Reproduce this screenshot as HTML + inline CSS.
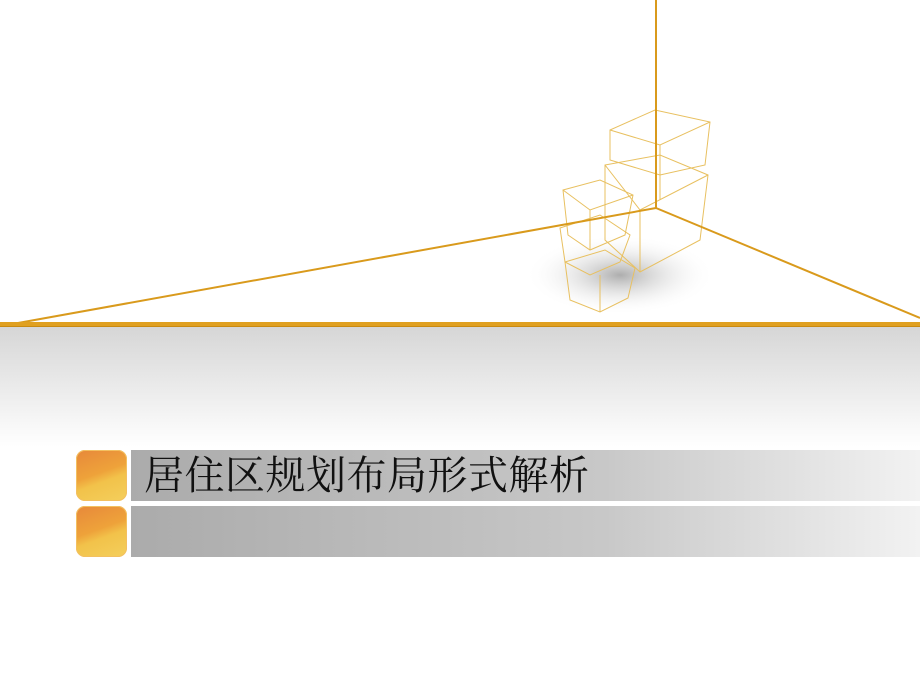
<!DOCTYPE html>
<html><head><meta charset="utf-8"><style>
body{margin:0;width:920px;height:690px;overflow:hidden;background:#fff;position:relative;font-family:"Liberation Serif","Noto Serif CJK SC",serif}
.g{position:absolute;left:0;top:327px;width:920px;height:120px;background:linear-gradient(#d6d6d6,#fff)}
.bar{position:absolute;left:131px;width:789px;height:51px;background:linear-gradient(90deg,#ababab,#c8c8c8 60%,#f2f2f2)}
.sq{position:absolute;left:76px;width:51px;height:51px;border-radius:9px;background:linear-gradient(160deg,#e7883a,#eea23a 45%,#f2c24a 60%,#f4cf5c);box-shadow:inset 0 0 0 1px #f3c060}
.t{position:absolute;left:144px;top:451px;font-size:40px;color:#111;line-height:50px;letter-spacing:0.5px}
</style></head><body>
<div class="g"></div>
<svg width="920" height="690" style="position:absolute;left:0;top:0">
<defs><radialGradient id="s"><stop offset="0" stop-color="#999" stop-opacity=".8"/><stop offset="1" stop-color="#fff" stop-opacity="0"/></radialGradient></defs>
<ellipse cx="620" cy="275" rx="95" ry="40" fill="url(#s)"/>
<g fill="none" stroke="#e8c060" stroke-width="1">
<path d="M610 130 L655 110 L710 122 L705 165 L660 175 L610 160 Z M610 130 L660 145 L710 122 M660 145 L660 175"/>
<path d="M605 165 L660 155 L708 175 L700 240 L640 272 L605 240 Z M660 155 L660 200 M640 210 L640 272 M605 165 L640 210 L708 175"/>
<path d="M563 190 L600 180 L633 195 L625 235 L590 250 L568 235 Z M563 190 L590 210 L633 195 M590 210 L590 250"/>
<path d="M560 228 L600 215 L630 235 L620 262 L590 275 L565 262 Z"/>
<path d="M565 262 L605 250 L635 268 L628 298 L600 312 L570 300 Z M600 275 L600 312"/>
</g>
<g stroke="#d99a1c" fill="none">
<line x1="656" y1="0" x2="656" y2="208" stroke-width="2"/>
<line x1="656" y1="208" x2="18" y2="323" stroke-width="2"/>
<line x1="656" y1="208" x2="920" y2="318" stroke-width="2"/>
</g>
<rect x="0" y="322" width="920" height="4" fill="#e0a020"/>
<rect x="0" y="326" width="920" height="1" fill="#c98a10"/>
</svg>
<div class="bar" style="top:450px"></div>
<div class="bar" style="top:506px"></div>
<div class="sq" style="top:450px"></div>
<div class="sq" style="top:506px"></div>
<div class="t">居住区规划布局形式解析</div>
</body></html>
